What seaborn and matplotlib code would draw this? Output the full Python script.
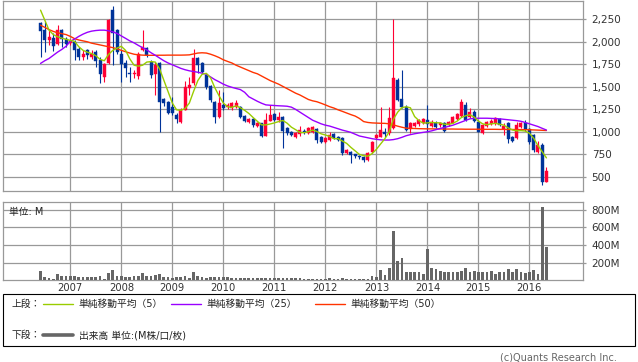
import numpy as np
import pandas as pd
import seaborn as sns
import matplotlib
matplotlib.use("Agg")
import matplotlib.pyplot as plt
from matplotlib.lines import Line2D
from matplotlib.patches import Rectangle

# monthly candles, Jun 2006 .. May 2016
months = pd.date_range("2006-06-01", periods=120, freq="MS")

opens = [2210, 2129, 2022, 2044, 1977, 2129, 2036, 1985, 1996, 1922,
         1833, 1907, 1833, 1888, 1800, 1612, 1760, 2350, 2136, 1870,
         1760, 1656, 1645, 1615, 1907, 1930, 1780, 1640, 1767, 1360,
         1334, 1279, 1187, 1113, 1243, 1482, 1538, 1815, 1760, 1630,
         1508, 1334, 1161, 1297, 1273, 1260, 1279, 1279, 1176, 1113,
         1139, 1065, 1095, 954, 1124, 1198, 1132, 1169, 1040, 1003,
         947, 977, 1010, 991, 1003, 1029, 947, 892, 910, 977,
         947, 929, 763, 781, 751, 737, 718, 689, 781, 929,
         947, 1000, 984, 1040, 1575, 1364, 1279, 1028, 1065, 1087,
         1095, 1132, 1065, 1102, 1073, 1095, 1076, 1102, 1146, 1176,
         1297, 1169, 1224, 1113, 984, 1065, 1087, 1095, 1139, 1028,
         1095, 940, 928, 1050, 1095, 1028, 965, 780, 854, 449]
highs = [2221, 2228, 2136, 2092, 2184, 2147, 2055, 2030, 2018, 1944,
         1914, 1925, 1907, 1907, 1833, 1767, 2255, 2395, 2147, 1907,
         1797, 1723, 1690, 1888, 2129, 1945, 1800, 1780, 1778, 1375,
         1345, 1390, 1206, 1260, 1567, 1612, 1925, 1830, 1775, 1650,
         1520, 1345, 1464, 1440, 1320, 1330, 1353, 1290, 1190, 1150,
         1150, 1110, 1100, 1206, 1297, 1210, 1224, 1180, 1050, 1015,
         1000, 1065, 1030, 1055, 1070, 1040, 955, 940, 1003, 990,
         960, 940, 810, 790, 760, 745, 730, 780, 900, 975,
         1279, 1040, 1279, 2258, 1600, 1686, 1300, 1110, 1115, 1140,
         1150, 1297, 1130, 1120, 1115, 1105, 1125, 1180, 1210, 1360,
         1330, 1260, 1240, 1130, 1090, 1125, 1140, 1169, 1150, 1095,
         1105, 950, 1110, 1110, 1130, 1040, 980, 900, 880, 615]
lows = [1833, 1885, 1963, 1896, 1963, 1944, 1944, 1960, 1797, 1797,
        1797, 1804, 1804, 1723, 1545, 1556, 1752, 1741, 1870, 1556,
        1612, 1556, 1600, 1586, 1900, 1830, 1600, 1405, 1000, 1290,
        1200, 1190, 1095, 1100, 1240, 1408, 1519, 1650, 1640, 1480,
        1330, 1095, 1150, 1240, 1250, 1240, 1260, 1150, 1110, 1100,
        1060, 1055, 940, 950, 1120, 1120, 1113, 817, 970, 950,
        935, 960, 980, 975, 990, 880, 880, 880, 900, 920,
        895, 744, 750, 652, 715, 700, 670, 680, 770, 920,
        940, 947, 970, 1030, 1340, 1260, 1010, 990, 1050, 1070,
        1085, 1000, 1050, 1040, 1060, 1000, 1065, 1095, 1135, 1165,
        1120, 1160, 1110, 995, 980, 1055, 1075, 1080, 1065, 970,
        873, 890, 920, 1040, 1010, 870, 780, 765, 415, 445]
closes = [2121, 2025, 2051, 1955, 2129, 2036, 1970, 2005, 1907, 1833,
          1863, 1851, 1870, 1789, 1638, 1752, 2247, 2099, 1888, 1752,
          1704, 1641, 1656, 1870, 1937, 1850, 1630, 1740, 1335, 1316,
          1213, 1206, 1143, 1243, 1501, 1519, 1815, 1741, 1667, 1501,
          1353, 1169, 1316, 1260, 1297, 1316, 1316, 1161, 1124, 1139,
          1073, 1095, 954, 1132, 1187, 1132, 1169, 1014, 984, 966,
          991, 1021, 995, 1040, 1058, 910, 892, 929, 966, 929,
          910, 763, 799, 744, 733, 718, 689, 770, 891, 966,
          1021, 977, 1150, 1593, 1353, 1279, 1021, 1095, 1102, 1132,
          1139, 1087, 1113, 1058, 1102, 1014, 1113, 1169, 1198, 1334,
          1132, 1224, 1124, 1003, 1076, 1113, 1124, 1150, 1076, 1065,
          918, 903, 1076, 1095, 1028, 891, 799, 851, 441, 570]

# moving averages as drawn on the chart
ma5 = [2351, 2240, 2129, 2080, 2056, 2040, 2028, 2015, 2005, 1945,
       1905, 1885, 1870, 1845, 1805, 1790, 1860, 1905, 1930, 1950,
       1905, 1810, 1740, 1730, 1740, 1775, 1780, 1775, 1700, 1574,
       1447, 1320, 1245, 1240, 1260, 1320, 1450, 1570, 1640, 1650,
       1600, 1490, 1400, 1320, 1280, 1272, 1290, 1268, 1240, 1205,
       1160, 1118, 1078, 1078, 1088, 1100, 1115, 1127, 1097, 1053,
       1025, 995, 991, 1003, 1021, 1005, 979, 966, 951, 925,
       925, 899, 873, 829, 790, 751, 737, 731, 760, 807,
       867, 925, 1001, 1141, 1219, 1270, 1279, 1268, 1170, 1126,
       1098, 1100, 1105, 1102, 1100, 1085, 1085, 1095, 1120, 1160,
       1180, 1190, 1165, 1120, 1090, 1080, 1090, 1095, 1085, 1075,
       1045, 1022, 1012, 1015, 1010, 985, 930, 850, 780, 712]
ma25 = [1760, 1790, 1815, 1850, 1885, 1915, 1950, 2005, 2030, 2060,
        2085, 2105, 2118, 2125, 2129, 2129, 2122, 2110, 2092, 2065,
        2038, 2010, 1988, 1960, 1935, 1910, 1878, 1850, 1820, 1790,
        1765, 1745, 1725, 1705, 1690, 1678, 1670, 1662, 1652, 1640,
        1610, 1580, 1556, 1530, 1510, 1495, 1482, 1470, 1440, 1390,
        1365, 1340, 1318, 1300, 1296, 1293, 1290, 1288, 1285, 1275,
        1250, 1220, 1190, 1160, 1130, 1110, 1090, 1075, 1065, 1050,
        1035, 1020, 1008, 995, 975, 955, 945, 935, 925, 918,
        912, 910, 910, 915, 925, 940, 958, 970, 980, 988,
        995, 1002, 1012, 1025, 1038, 1050, 1062, 1075, 1092, 1110,
        1128, 1145, 1150, 1152, 1152, 1152, 1150, 1148, 1145, 1140,
        1135, 1130, 1125, 1118, 1105, 1090, 1075, 1060, 1040, 1021]
ma50 = [2184, 2160, 2135, 2115, 2100, 2090, 2080, 2060, 2035, 2020,
        2010, 2000, 1985, 1975, 1965, 1955, 1945, 1935, 1922, 1905,
        1890, 1875, 1862, 1855, 1852, 1850, 1850, 1850, 1851, 1851,
        1852, 1852, 1852, 1852, 1853, 1855, 1865, 1875, 1878, 1875,
        1862, 1845, 1825, 1800, 1782, 1765, 1740, 1720, 1700, 1680,
        1660, 1645, 1620, 1595, 1570, 1550, 1530, 1505, 1480, 1455,
        1430, 1410, 1385, 1360, 1345, 1335, 1318, 1300, 1280, 1265,
        1245, 1228, 1210, 1192, 1176, 1150, 1115, 1105, 1100, 1098,
        1096, 1095, 1090, 1078, 1064, 1052, 1042, 1040, 1038, 1036,
        1035, 1034, 1034, 1033, 1033, 1032, 1032, 1032, 1031, 1031,
        1030, 1030, 1030, 1030, 1029, 1029, 1029, 1029, 1028, 1028,
        1027, 1027, 1026, 1026, 1025, 1024, 1022, 1020, 1018, 1016]

# volume, millions
volume = [102, 38, 30, 19, 75, 45, 49, 53, 45, 41,
          38, 34, 41, 41, 45, 19, 87, 121, 53, 49,
          38, 38, 49, 53, 87, 45, 49, 57, 75, 41,
          34, 30, 34, 41, 53, 23, 98, 49, 34, 26,
          34, 34, 41, 41, 34, 30, 30, 23, 23, 23,
          23, 30, 30, 30, 30, 30, 23, 30, 26, 23,
          23, 23, 19, 19, 19, 19, 19, 19, 30, 19,
          19, 30, 19, 19, 11, 19, 19, 19, 53, 41,
          121, 64, 143, 562, 222, 256, 98, 98, 98, 98,
          75, 360, 143, 132, 109, 90, 90, 98, 90, 109,
          143, 98, 109, 98, 98, 98, 109, 75, 98, 98,
          132, 90, 132, 90, 79, 90, 121, 75, 835, 376]

price_ticks = [500, 750, 1000, 1250, 1500, 1750, 2000, 2250]
vol_ticks = [200, 400, 600, 800]

df = pd.DataFrame({"x": np.arange(len(months)), "open": opens, "high": highs,
                   "low": lows, "close": closes, "ma5": ma5, "ma25": ma25,
                   "ma50": ma50, "volume": volume})
jan = df["x"][months.month == 1].values
years = months.year[months.month == 1]

sns.set_style("white")
plt.rcParams["font.family"] = ["DejaVu Sans", "Noto Sans CJK JP"]
plt.rcParams["patch.force_edgecolor"] = False

W, H = 638, 362
fig = plt.figure(figsize=(W / 100, H / 100), dpi=100)
grid_c = "#999999"
red, blue = "#ff0033", "#003399"


def px(x0, y0, x1, y1):
    return [x0 / W, 1 - y1 / H, (x1 - x0) / W, (y1 - y0) / H]


ax = fig.add_axes(px(3.3, 0.5, 583, 190.7))
axv = fig.add_axes(px(3.3, 201.7, 583, 280.3))
xlim = (-8.76, 127.6)

for a in (ax, axv):
    a.set_xlim(*xlim)
    a.set_xticks(jan)
    a.grid(True, color=grid_c, lw=0.9)
    a.set_axisbelow(True)
    for s in a.spines.values():
        s.set_color(grid_c)
        s.set_linewidth(0.9)
    a.yaxis.tick_right()
    a.tick_params(axis="y", which="both", length=2.2, width=0.9, color=grid_c,
                  labelsize=7.5, labelcolor="#333333", pad=4, left=False)

# price panel
up = df["close"] >= df["open"]
cols = np.where(up, red, blue)
ax.vlines(df["x"], df["low"], df["high"], colors=cols, lw=0.8, zorder=2)
body_lo = np.minimum(df["open"], df["close"])
body_h = np.maximum(np.abs(df["close"] - df["open"]), 6)
ax.bar(df["x"], body_h, bottom=body_lo, width=0.72, color=cols,
       edgecolor=cols, linewidth=0.3, zorder=3)
sns.lineplot(data=df, x="x", y="ma50", ax=ax, color="#ff3300", lw=1.0, zorder=4)
sns.lineplot(data=df, x="x", y="ma25", ax=ax, color="#9900ff", lw=1.0, zorder=4)
sns.lineplot(data=df, x="x", y="ma5", ax=ax, color="#99cc00", lw=1.0, zorder=4)
ax.set_ylim(348, 2458)
ax.set_yticks(price_ticks)
ax.set_yticklabels([f"{v:,}" for v in price_ticks])
ax.tick_params(axis="x", length=0, labelbottom=False)
ax.set_xlabel("")
ax.set_ylabel("")

# volume panel
axv.bar(df["x"], df["volume"], width=0.64, color="#666666", edgecolor="none",
        linewidth=0, zorder=3)
axv.set_ylim(0, 890)
axv.set_yticks(vol_ticks)
axv.set_yticklabels([f"{v}M" for v in vol_ticks])
axv.set_xticklabels([str(y) for y in years])
axv.tick_params(axis="x", length=0, pad=2, labelsize=7.2, labelcolor="#333333")
axv.text(0.01, 0.87, "単位: M", transform=axv.transAxes, fontsize=7,
         color="#222222", va="center", ha="left")


# legend box
def fy(y):
    return 1 - y / H


fig.add_artist(Rectangle((3.3 / W, fy(345.7)), 632 / W, 51.4 / H, fill=False,
                         edgecolor="black", lw=0.8, transform=fig.transFigure))
fs = 7
fig.text(12 / W, fy(303.5), "上段：", fontsize=fs, va="center", color="#222222")
items = [(43, "#99cc00", "単純移動平均（5）"), (171, "#9900ff", "単純移動平均（25）"),
         (315, "#ff3300", "単純移動平均（50）")]
for x0, c, label in items:
    fig.add_artist(Line2D([x0 / W, (x0 + 30) / W], [fy(303.5)] * 2, color=c,
                          lw=1.0, transform=fig.transFigure))
    fig.text((x0 + 35) / W, fy(303.5), label, fontsize=fs, va="center",
             color="#222222")
fig.text(12 / W, fy(335), "下段：", fontsize=fs, va="center", color="#222222")
fig.add_artist(Line2D([43 / W, 73 / W], [fy(335)] * 2, color="#666666", lw=2.6,
                      transform=fig.transFigure))
fig.text(79 / W, fy(335), "出来高 単位:(M株/口/枚)", fontsize=fs, va="center",
         color="#222222")
fig.text(500 / W, fy(357.5), "(c)Quants Research Inc.", fontsize=7,
         va="center", color="#666666")

fig.savefig("out.png", dpi=100)
